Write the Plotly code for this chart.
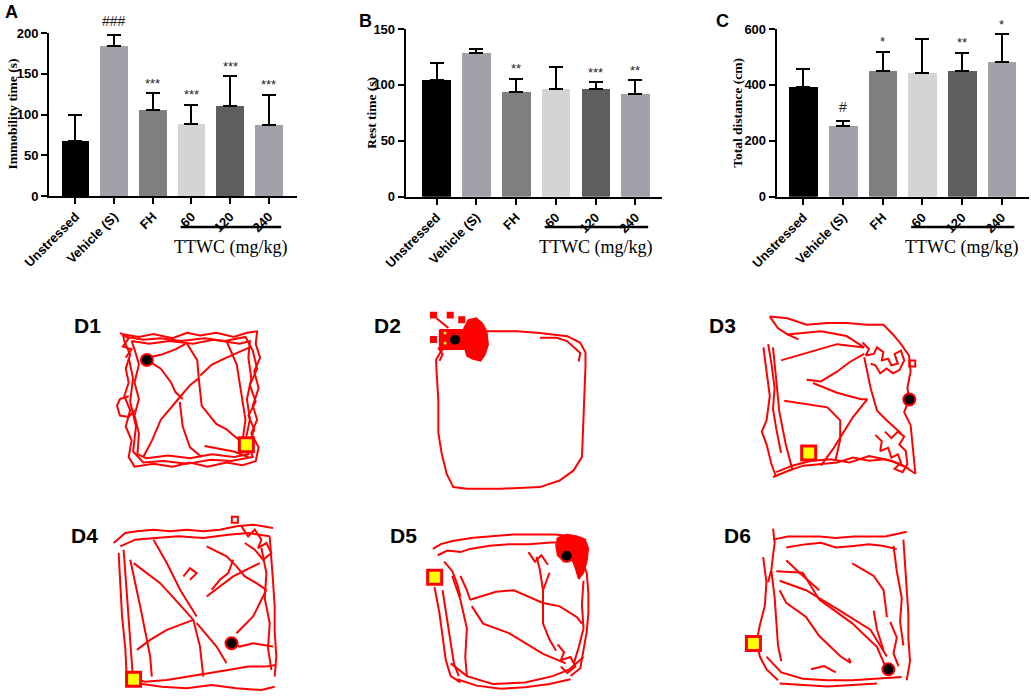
import plotly.graph_objects as go

W, H = 1031, 698

# ---- bar chart data (A, B, C) ----
groups = ['Unstressed', 'Vehicle (S)', 'FH', '60', '120', '240']
bar_colors = ['#000000', '#a1a1a9', '#7f7f7f', '#d4d4d4', '#5e5e5e', '#a1a1a9']

immobility_mean = [68, 184, 106, 88, 111, 87.5]
immobility_sd = [31, 14, 20, 24, 36, 37]
immobility_sig = ['', '###', '***', '***', '***', '***']

rest_mean = [104.5, 128.5, 94, 96, 96, 91.5]
rest_sd = [15, 3.6, 11.6, 20.3, 6.3, 12.8]
rest_sig = ['', '', '**', '', '***', '**']

distance_mean = [394, 254, 450, 441, 450, 482]
distance_sd = [63, 17, 69, 122, 65, 99]
distance_sig = ['', '#', '*', '', '**', '*']

dose_label = 'TTWC (mg/kg)'

# ---- open-field tracks (arena units 0-100, y pointing down) ----
track_d1 = [
    [(4, 3), (15, 5), (25, 3), (38, 6), (48, 2), (57, 4), (68, 2), (80, 5), (89, 2), (96, 1), (95, 10), (98, 20),
     (94, 30), (97, 42), (93, 55), (96, 65), (92, 75), (97, 85), (95, 95), (86, 98), (75, 96), (62, 99), (50, 96),
     (38, 99), (25, 97), (12, 99), (8, 92), (10, 80), (6, 70), (9, 58), (5, 48), (8, 38), (6, 28), (9, 18), (5, 8), (4, 3)],
    [(10, 8), (22, 10), (36, 8), (52, 10), (66, 7), (84, 10), (91, 8), (90, 20), (92, 35), (89, 50), (91, 65), (88, 80),
     (90, 90), (80, 92), (65, 90), (50, 93), (35, 91), (20, 93), (14, 90), (15, 75), (12, 62), (15, 50), (12, 38),
     (15, 25), (12, 14), (10, 8)],
    [(7, 5), (18, 7), (30, 6), (44, 8), (60, 6), (74, 8), (88, 5), (93, 15), (96, 28), (91, 40), (95, 52), (90, 62),
     (94, 72), (90, 84), (93, 92), (78, 95), (64, 94), (48, 97), (32, 95), (18, 96), (11, 88), (13, 70), (9, 52),
     (11, 35), (8, 20)],
    [(8, 48), (2, 50), (0, 55), (2, 62), (8, 63), (12, 58)],
    [(21, 22), (30, 28), (37, 38), (40, 45), (45, 50)],
    [(48, 10), (55, 22), (56, 35), (50, 40), (42, 50), (30, 65), (24, 80), (18, 92)],
    [(56, 35), (58, 55), (68, 68), (75, 72), (84, 80)],
    [(57, 33), (65, 25), (75, 20), (85, 15), (92, 12)],
    [(43, 52), (45, 70), (50, 85), (58, 92)],
    [(21, 20), (30, 18), (40, 14), (47, 10)],
    [(60, 84), (70, 86), (80, 88), (90, 92)],
    [(75, 8), (82, 25), (85, 45), (88, 65), (86, 80)],
    [(2, 2), (8, 6), (4, 12), (10, 14), (6, 20)],
]
track_d2 = [
    [(6.6, 11.2), (15, 5), (32, 2), (54, 2), (69, 3), (87, 5), (95.6, 9), (99, 15), (99, 23.5), (98, 44), (97.4, 64),
     (96.7, 78.6), (91, 87), (82, 93), (69, 97), (43, 98), (21, 98), (12, 97), (7.7, 89), (4.4, 76.5), (2.2, 64),
     (2.2, 44), (1.1, 27.6), (0.7, 19.4), (3.3, 15.3), (6.6, 11.2)],
    [(69, 6), (80, 6), (86.8, 8), (92, 12), (95.6, 15.3), (94.5, 20.4)],
    [(1, -6), (8.8, 0)],
    [(2, 12), (5, 16), (3, 20)],
]
blob_d2 = [(19, 0), (22, -5), (27, -6), (31, -3), (34, 2), (35, 10), (33, 16), (30, 20), (25, 19), (21, 17), (19, 10), (19, 0)]
patch_d2 = [(3, 1), (19, 1), (20, 13), (3, 13), (3, 1)]
marks_d2 = [(-1, -8), (10, -8), (17.6, -5), (-1, 7)]
start_d2 = [(6.6, 3.1), (6.6, 9.2)]

track_d3 = [
    [(8, 1), (19, 2), (31, 6), (44, 5), (56, 5), (69, 6), (79, 6), (85, 12), (90, 18), (95, 25), (96, 35), (94, 45),
     (95, 52), (92, 60), (96, 68), (97, 78), (98, 90), (99, 98)],
    [(10, 100), (20, 96), (29, 93), (40, 92), (50, 91), (60, 88), (70, 90), (80, 89), (90, 92), (99, 98)],
    [(12, 97), (22, 93), (34, 90), (46, 89), (58, 91), (70, 87), (84, 90), (95, 95)],
    [(8, 1), (13, 8), (19, 12), (26, 15)],
    [(4, 20), (6, 35), (8, 50), (6, 65), (3, 72), (6, 80), (9, 92), (12, 100)],
    [(10, 20), (12, 40), (14, 60), (18, 80), (22, 95)],
    [(7, 18), (9, 30), (11, 45), (10, 58), (12, 70), (15, 85)],
    [(31, 40), (40, 41), (50, 35), (58, 29), (67, 24)],
    [(35, 42), (50, 48), (65, 52), (69, 52)],
    [(17, 53), (31, 55), (44, 57), (52, 65), (52, 77), (49, 90)],
    [(69, 52), (60, 63), (48, 82), (40, 93)],
    [(15, 28), (29, 24), (50, 18), (67, 20)],
    [(19, 12), (40, 10), (56, 13), (67, 20)],
    [(67, 26), (71, 45), (75, 59), (81, 65), (90, 73)],
    [(66, 17), (70, 21), (68, 25), (73, 24), (75, 20), (79, 23), (78, 28), (82, 27), (84, 31), (88, 30), (86, 24),
     (90, 22), (92, 28), (89, 34), (85, 36), (81, 33), (77, 36), (74, 31), (71, 30)],
    [(74, 74), (78, 78), (77, 84), (82, 82), (84, 88), (88, 86), (90, 91), (86, 95), (91, 97), (94, 92), (93, 84),
     (89, 80), (92, 75), (88, 72), (84, 76), (80, 72)],
]
marks_d3 = [(97, 30)]

track_d4 = [
    [(1, 12), (8, 6), (15, 5), (25, 4), (35, 5), (45, 4), (55, 5), (65, 4), (75, 2), (85, 1), (97, 3)],
    [(5, 14), (14, 10), (26, 9), (40, 8), (55, 9), (70, 7), (82, 6), (95, 8)],
    [(7, 16), (8, 30), (9, 45), (10, 60), (11, 75), (12, 90), (13, 98)],
    [(11, 22), (14, 35), (17, 50), (20, 65), (23, 80), (24, 92)],
    [(4, 18), (5, 35), (6, 55), (8, 75), (9, 95)],
    [(95, 8), (96, 20), (97, 35), (98, 50), (98, 65), (99, 80), (98, 92)],
    [(90, 15), (93, 30), (92, 45), (95, 60), (94, 75), (96, 88)],
    [(9, 92), (20, 95), (33, 94), (46, 92), (58, 90), (70, 88), (82, 86), (92, 86), (99, 85)],
    [(15, 96), (30, 98), (45, 99), (60, 97), (75, 99), (90, 100), (98, 98)],
    [(13, 24), (29, 36), (40, 48), (49, 58), (53, 74), (55, 92)],
    [(25, 10), (33, 24), (41, 40), (51, 56)],
    [(57, 14), (69, 20), (75, 26), (80, 32), (87, 36), (93, 40)],
    [(49, 58), (33, 64), (23, 70), (15, 76)],
    [(51, 60), (63, 74), (69, 84)],
    [(57, 44), (73, 32), (89, 24)],
    [(75, 66), (85, 56), (93, 40)],
    [(72, 72), (77, 74), (85, 72), (97, 74)],
    [(43, 32), (47, 27), (51, 30), (47, 34)],
    [(60, 40), (65, 34), (70, 30), (73, 22)],
    [(78, 2), (82, 8), (86, 4), (90, 10), (88, 15), (93, 12), (96, 18), (91, 22), (86, 16), (80, 12)],
]
marks_d4 = [(74, -2)]

track_d5 = [
    [(28, 3), (40, 2), (52, 1), (64, 1), (78, 1), (90, 2)],
    [(26, 10), (38, 8), (50, 7), (62, 7), (76, 6), (88, 6)],
    [(3, 10), (8, 7), (15, 5), (22, 4), (28, 3)],
    [(6, 14), (12, 11), (20, 12), (26, 10)],
    [(4, 34), (7, 50), (9, 65), (11, 80), (14, 90), (20, 94)],
    [(9, 36), (12, 55), (14, 70), (16, 82), (19, 90)],
    [(15, 27), (20, 42), (24, 60), (23, 78), (24, 90)],
    [(10, 18), (15, 24), (18, 32), (20, 40)],
    [(93, 12), (98, 25), (99, 38), (99, 50), (98, 62), (96, 75), (94, 85), (88, 90)],
    [(96, 30), (95, 45), (96, 60), (93, 72), (90, 82)],
    [(14, 82), (24, 90), (40, 95), (60, 94), (77, 90), (87, 86), (96, 78)],
    [(18, 92), (30, 96), (45, 98), (60, 97), (75, 95), (88, 92)],
    [(26, 42), (42, 37), (53, 36), (71, 44), (81, 46), (92, 53), (95, 57)],
    [(27, 46), (34, 57), (50, 63), (71, 76), (85, 82)],
    [(67, 15), (69, 23), (71, 36), (71, 57), (75, 67), (79, 74)],
    [(75, 25), (71, 36)],
    [(26, 42), (24, 36), (20, 27)],
    [(62, 12), (66, 18), (70, 14), (74, 20)],
    [(80, 70), (84, 75), (82, 80), (88, 78), (91, 84), (86, 88), (82, 84)],
]
blob_d5 = [(80, 3), (86, 1), (92, 2), (97, 4), (99, 10), (98, 18), (96, 25), (93, 29), (91, 22), (89, 17), (84, 18),
           (80, 14), (79, 8), (80, 3)]

track_d6 = [
    [(17, 8), (26, 6), (35, 6), (45, 6), (55, 7), (66, 6), (75, 6), (85, 6), (94, 4), (98, 3)],
    [(25, 13), (36, 11), (46, 10), (55, 13), (66, 12), (75, 11), (84, 12), (92, 14)],
    [(17, 1), (18, 10), (17, 18), (16, 27), (14, 35)],
    [(11, 19), (13, 35), (12, 50), (9, 62), (7, 73), (9, 82), (13, 90), (20, 97)],
    [(16, 28), (18, 45), (19, 60), (20, 75), (22, 85)],
    [(96, 8), (97, 25), (98, 40), (99, 55), (99, 70), (100, 85), (98, 97)],
    [(90, 12), (92, 28), (95, 45), (94, 60), (96, 75)],
    [(13, 82), (22, 92), (35, 96), (50, 97), (65, 97), (80, 96), (95, 95)],
    [(21, 99), (35, 100), (50, 101), (65, 100), (80, 99)],
    [(21, 34), (37, 40), (56, 52), (76, 65), (86, 82)],
    [(19, 28), (35, 29), (45, 46), (65, 61), (80, 76), (85, 88)],
    [(21, 40), (25, 48), (37, 57), (45, 69), (58, 82), (64, 86), (63, 83)],
    [(25, 21), (33, 29), (45, 40)],
    [(65, 23), (78, 31), (84, 40), (86, 57)],
    [(78, 53), (80, 65), (84, 78)],
    [(55, 92), (48, 88), (40, 90)],
    [(88, 60), (92, 70), (90, 80), (93, 88)],
]

end_points = [(20.5, 21.7), (13.2, 7.1), (95.2, 52.2), (72, 72), (85.6, 14.3), (86.9, 90.1)]
start_points = [(88.6, 83.1), None, (32.3, 85.2), (13, 93.6), (4.1, 27.8), (5.1, 73.7)]
track_names = ['D1', 'D2', 'D3', 'D4', 'D5', 'D6']


def px_x(v):
    return v / W


def px_y(v):
    return 1 - v / H


fig = go.Figure()

bar_panels = [
    dict(letter='A', mean=immobility_mean, sd=immobility_sd, sig=immobility_sig, title='Immobility time (s)',
         yrange=[0, 200], dtick=50, xpx=(49, 297), ypx=(33, 196), xrange=[-0.685, 5.73],
         title_x=12, letter_xy=(11, 12)),
    dict(letter='B', mean=rest_mean, sd=rest_sd, sig=rest_sig, title='Rest time (s)',
         yrange=[0, 150], dtick=50, xpx=(405.7, 661.7), ypx=(29, 196.7), xrange=[-0.774, 5.66],
         title_x=372, letter_xy=(365, 21)),
    dict(letter='C', mean=distance_mean, sd=distance_sd, sig=distance_sig, title='Total distance (cm)',
         yrange=[0, 600], dtick=200, xpx=(776.7, 1029), ypx=(29, 196.7), xrange=[-0.67, 5.69],
         title_x=738, letter_xy=(722, 21)),
]

annotations = []
shapes = []
axis_font = dict(family='Arial, Liberation Sans', size=13, color='black', weight='bold')

for i, p in enumerate(bar_panels):
    n = '' if i == 0 else str(i + 1)
    fig.add_trace(go.Bar(
        x=groups, y=p['mean'], width=0.72, marker=dict(color=bar_colors, line=dict(width=0)),
        error_y=dict(type='data', array=p['sd'], arrayminus=[0] * len(groups), symmetric=False,
                     color='black', thickness=2, width=7),
        xaxis='x' + n, yaxis='y' + n, showlegend=False, hoverinfo='x+y'))
    fig.update_layout(**{
        'xaxis' + n: dict(domain=[px_x(p['xpx'][0]), px_x(p['xpx'][1])], range=p['xrange'], anchor='y' + n,
                          type='category', showline=True, linecolor='black', linewidth=2, ticks='outside',
                          ticklen=6, tickwidth=2, tickcolor='black', tickangle=-45, tickfont=axis_font,
                          showgrid=False, zeroline=False, automargin=False),
        'yaxis' + n: dict(domain=[px_y(p['ypx'][1]), px_y(p['ypx'][0])], range=p['yrange'], anchor='x' + n,
                          dtick=p['dtick'], showline=True, linecolor='black', linewidth=2, ticks='outside',
                          ticklen=6, tickwidth=2, tickcolor='black', tickfont=axis_font,
                          showgrid=False, zeroline=False, automargin=False),
    })
    # significance marks (category axis -> position by index)
    for j, (m, s, t) in enumerate(zip(p['mean'], p['sd'], p['sig'])):
        if not t:
            continue
        is_hash = t.startswith('#')
        annotations.append(dict(x=j, y=m + s, xref='x' + n, yref='y' + n, text=t, showarrow=False,
                                yanchor='middle', yshift=14 if is_hash else 10,
                                font=dict(family='Arial', size=14 if is_hash else 13, color='#222222')))
    # y title
    annotations.append(dict(x=px_x(p['title_x']), y=px_y((p['ypx'][0] + p['ypx'][1]) / 2), xref='paper',
                            yref='paper', text=p['title'], textangle=-90, showarrow=False,
                            xanchor='center', yanchor='middle',
                            font=dict(family='Liberation Serif, Times New Roman', size=13.5, color='black',
                                      weight='bold')))
    # panel letter
    annotations.append(dict(x=px_x(p['letter_xy'][0]), y=px_y(p['letter_xy'][1]), xref='paper', yref='paper',
                            text=p['letter'], showarrow=False, xanchor='center', yanchor='middle',
                            font=dict(family='Arial', size=18, color='black', weight='bold')))
    # dose bracket
    shapes.append(dict(type='line', xref='x' + n, yref='paper', x0=2.72, x1=5.32, y0=px_y(227), y1=px_y(227),
                       line=dict(color='black', width=2.5)))
    annotations.append(dict(x=4.0, y=px_y(247), xref='x' + n, yref='paper', text=dose_label, showarrow=False,
                            xanchor='center', yanchor='middle',
                            font=dict(family='Liberation Serif, Times New Roman', size=18, color='black')))

# ---- trajectory panels ----
boxes = [(117, 330, 263, 468), (435, 328, 587, 492), (757, 315, 917, 477),
         (112, 523, 278, 690), (428, 533, 590, 692), (745, 527, 910, 685)]
label_xy = [(87, 326), (387, 326), (722, 326), (84, 535), (403, 535), (737, 535)]
tracks = [track_d1, track_d2, track_d3, track_d4, track_d5, track_d6]
red = '#ff0000'


def join(segments):
    xs, ys = [], []
    for seg in segments:
        xs += [pt[0] for pt in seg] + [None]
        ys += [pt[1] for pt in seg] + [None]
    return xs, ys


for k, (name, trk, box) in enumerate(zip(track_names, tracks, boxes)):
    n = str(k + 4)
    l, t, r, b = box
    w, h = r - l, b - t
    pad = 0.1
    pad_bot = min(pad, (H - b) / h)
    fig.update_layout(**{
        'xaxis' + n: dict(domain=[px_x(l - pad * w), px_x(r + pad * w)], range=[-100 * pad, 100 + 100 * pad],
                          visible=False, anchor='y' + n, fixedrange=True, automargin=False),
        'yaxis' + n: dict(domain=[max(0.0, px_y(b + pad_bot * h)), px_y(t - pad * h)],
                          range=[100 + 100 * pad_bot, -100 * pad], visible=False, anchor='x' + n,
                          fixedrange=True, automargin=False),
    })
    ax = dict(xaxis='x' + n, yaxis='y' + n, showlegend=False, hoverinfo='skip')

    if name == 'D2':
        for poly in (patch_d2, blob_d2):
            fig.add_trace(go.Scatter(x=[q[0] for q in poly], y=[q[1] for q in poly], mode='lines', fill='toself',
                                     fillcolor=red, line=dict(color=red, width=1.5), **ax))
        fig.add_trace(go.Scatter(x=[q[0] for q in marks_d2], y=[q[1] for q in marks_d2], mode='markers',
                                 marker=dict(symbol='square', size=7, color=red), **ax))
    if name == 'D5':
        fig.add_trace(go.Scatter(x=[q[0] for q in blob_d5], y=[q[1] for q in blob_d5], mode='lines', fill='toself',
                                 fillcolor=red, line=dict(color=red, width=1.5), **ax))
    if name == 'D3':
        fig.add_trace(go.Scatter(x=[q[0] for q in marks_d3], y=[q[1] for q in marks_d3], mode='markers',
                                 marker=dict(symbol='square-open', size=6, color=red, line=dict(width=2)), **ax))
    if name == 'D4':
        fig.add_trace(go.Scatter(x=[q[0] for q in marks_d4], y=[q[1] for q in marks_d4], mode='markers',
                                 marker=dict(symbol='square-open', size=6, color=red, line=dict(width=2)), **ax))

    xs, ys = join(trk)
    fig.add_trace(go.Scatter(x=xs, y=ys, mode='lines', line=dict(color=red, width=2), connectgaps=False, **ax))

    sp = start_points[k]
    if sp is not None:
        fig.add_trace(go.Scatter(x=[sp[0]], y=[sp[1]], mode='markers',
                                 marker=dict(symbol='square', size=14, color='#ffff00',
                                             line=dict(color=red, width=3)), **ax))
    else:
        fig.add_trace(go.Scatter(x=[q[0] for q in start_d2], y=[q[1] for q in start_d2], mode='markers',
                                 marker=dict(size=3, color='#ffff00'), **ax))
    ep = end_points[k]
    fig.add_trace(go.Scatter(x=[ep[0]], y=[ep[1]], mode='markers',
                             marker=dict(size=12, color='black', line=dict(color=red, width=2)), **ax))

    lx, ly = label_xy[k]
    annotations.append(dict(x=px_x(lx), y=px_y(ly), xref='paper', yref='paper', text=name, showarrow=False,
                            xanchor='center', yanchor='middle',
                            font=dict(family='Arial', size=21, color='black', weight='bold')))

fig.update_layout(
    width=W, height=H, margin=dict(l=0, r=0, t=0, b=0, autoexpand=False),
    paper_bgcolor='white', plot_bgcolor='white',
    bargap=0, annotations=annotations, shapes=shapes, showlegend=False,
)

# drop the default page margin so the figure sits at the window's top-left corner
fig.write_html('out.html', config={'displayModeBar': False},
               post_script="document.body.style.margin = '0px';")
